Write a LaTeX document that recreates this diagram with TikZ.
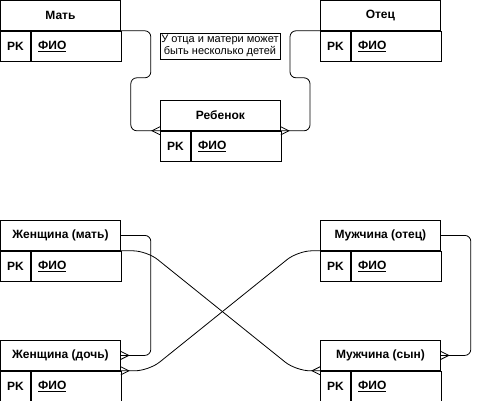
\documentclass[tikz,border=0pt]{standalone}
\usepackage{fontspec}
\setmainfont{Liberation Sans}
\usetikzlibrary{positioning}

\tikzset{
  title/.style={draw, line width=0.8pt, minimum width=120pt, minimum height=30pt,
    inner sep=0pt, anchor=north west, font=\fontsize{12}{14}\selectfont\bfseries},
  pkcell/.style={draw, line width=0.8pt, minimum width=30pt, minimum height=30pt,
    inner sep=0pt, anchor=north west, font=\fontsize{12}{14}\selectfont\bfseries},
  fiocell/.style={draw, line width=0.8pt, text width=76pt, inner xsep=7pt, inner ysep=0pt,
    minimum height=30pt, align=left, anchor=north west, font=\fontsize{12}{14}\selectfont\bfseries},
  note/.style={draw, line width=0.8pt, minimum width=120pt, minimum height=26pt,
    inner sep=0pt, align=center, font=\fontsize{11}{12}\selectfont},
  link/.style={line width=0.8pt, rounded corners=6pt},
  diag/.style={line width=0.8pt, rounded corners=14pt},
  footw/.pic={\draw[line width=0.8pt] (0,-4) -- (-8,0) -- (0,4);},
  foote/.pic={\draw[line width=0.8pt] (0,-4) -- (8,0) -- (0,4);}
}

\begin{document}
\begin{tikzpicture}[x=1pt,y=-1pt]
    \useasboundingbox (0,0) rectangle (479,401);

    % parents and child
    \node[title] (mat) at (0,0) {Мать};
    \node[pkcell] (mat-pk) at (mat.south west) {PK};
    \node[fiocell] (mat-fio) at (mat-pk.north east) {\underline{ФИО}};

    \node[title] (otec) at (320,0) {Отец};
    \node[pkcell] (otec-pk) at (otec.south west) {PK};
    \node[fiocell] (otec-fio) at (otec-pk.north east) {\underline{ФИО}};

    \node[title] (reb) at (160,100) {Ребенок};
    \node[pkcell] (reb-pk) at (reb.south west) {PK};
    \node[fiocell] (reb-fio) at (reb-pk.north east) {\underline{ФИО}};

    \node[note] (txt) at (220,46) {У отца и матери может\\быть несколько детей};

    \draw[link] (mat.south east) -- ++(30,0) -- ++(0,47) -- ++(-20,0) |- (reb.south west);
    \draw[link] (otec.south west) -- ++(-30,0) -- ++(0,47) -- ++(20,0) |- (reb.south east);
    \pic at (reb.south west) {footw};
    \pic at (reb.south east) {foote};

    % people
    \node[title] (zm) at (0,220) {Женщина (мать)};
    \node[pkcell] (zm-pk) at (zm.south west) {PK};
    \node[fiocell] (zm-fio) at (zm-pk.north east) {\underline{ФИО}};

    \node[title] (mo) at (320,220) {Мужчина (отец)};
    \node[pkcell] (mo-pk) at (mo.south west) {PK};
    \node[fiocell] (mo-fio) at (mo-pk.north east) {\underline{ФИО}};

    \node[title] (zd) at (0,340) {Женщина (дочь)};
    \node[pkcell] (zd-pk) at (zd.south west) {PK};
    \node[fiocell] (zd-fio) at (zd-pk.north east) {\underline{ФИО}};

    \node[title] (ms) at (320,340) {Мужчина (сын)};
    \node[pkcell] (ms-pk) at (ms.south west) {PK};
    \node[fiocell] (ms-fio) at (ms-pk.north east) {\underline{ФИО}};

    \draw[link] (zm.east) -- ++(30,0) |- (zd.east);
    \draw[link] (mo.east) -- ++(30,0) |- (ms.east);
    \draw[diag] (zm.south east) -- ++(26,0) -- ([xshift=-24pt]ms.south west) -- (ms.south west);
    \draw[diag] (mo.south west) -- ++(-22,0) -- ([xshift=28pt]zd.south east) -- (zd.south east);
    \pic at (zd.east) {foote};
    \pic at (zd.south east) {foote};
    \pic at (ms.east) {foote};
    \pic at (ms.south west) {footw};
\end{tikzpicture}
\end{document}
